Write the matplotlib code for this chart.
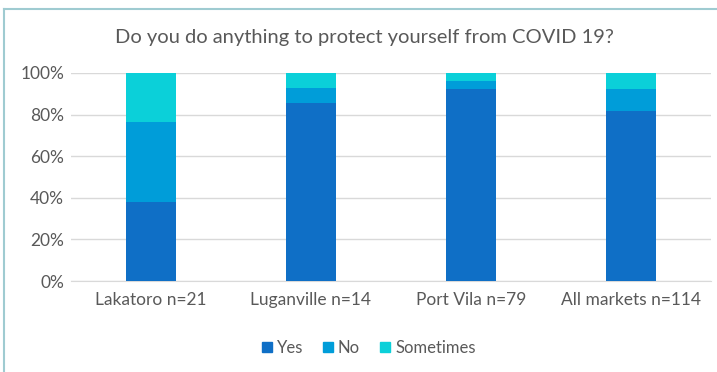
import numpy as np
import matplotlib.pyplot as plt
from matplotlib.lines import Line2D

plt.rcParams['font.family'] = ['Lato', 'DejaVu Sans']

markets = ['Lakatoro n=21', 'Luganville n=14', 'Port Vila n=79', 'All markets n=114']
yes = [38.1, 85.7, 92.4, 81.6]
no = [38.1, 7.1, 3.8, 10.5]
sometimes = [23.8, 7.2, 3.8, 7.9]

series = ['Yes', 'No', 'Sometimes']
colors = ['#0F6FC6', '#009DD9', '#0BD0D9']
text_col = '#595959'

fig = plt.figure(figsize=(7.17, 3.72), dpi=100)
ax = fig.add_axes([0.099, 0.2446, 0.8926, 0.5592])

x = np.arange(len(markets))
bottom = np.zeros(len(markets))
for name, vals, c in zip(series, [yes, no, sometimes], colors):
    ax.bar(x, vals, width=0.31, bottom=bottom, color=c, label=name, zorder=3)
    bottom += np.array(vals)

ax.set_xlim(-0.5, len(markets) - 0.5)
ax.set_ylim(0, 100)
ax.set_yticks(np.arange(0, 101, 20))
ax.set_yticklabels([f'{v}%' for v in range(0, 101, 20)])
ax.set_xticks(x)
ax.set_xticklabels(markets)
ax.yaxis.grid(True, color='#d9d9d9', linewidth=1, zorder=0)
for s in ['top', 'right', 'left']:
    ax.spines[s].set_visible(False)
ax.spines['bottom'].set_color('#d9d9d9')
ax.tick_params(axis='both', length=0, colors=text_col, labelsize=12.5)
ax.tick_params(axis='y', pad=5)
ax.tick_params(axis='x', pad=8)

fig.text(0.508, 0.898, 'Do you do anything to protect yourself from COVID 19?',
         ha='center', va='center', fontsize=14.5, color=text_col)

handles = [plt.Rectangle((0, 0), 1, 1, color=c) for c in colors]
fig.legend(handles, series, loc='center', bbox_to_anchor=(0.514, 0.065), ncol=3,
           frameon=False, fontsize=12, labelcolor=text_col, handlelength=0.6,
           handleheight=0.6, handletextpad=0.3, columnspacing=1.2)

# outer frame (top and left edges visible)
fig.add_artist(Line2D([0.005, 1.0], [0.977, 0.977], color='#9FCBD1', lw=1.5, transform=fig.transFigure))
fig.add_artist(Line2D([0.006, 0.006], [0.0, 0.977], color='#9FCBD1', lw=1.5, transform=fig.transFigure))

fig.savefig('out.png', dpi=100)
